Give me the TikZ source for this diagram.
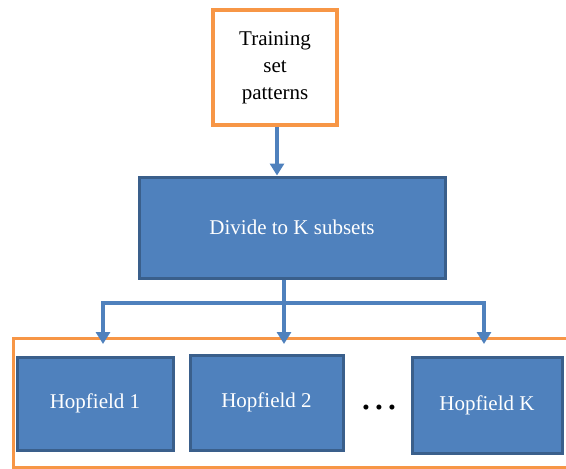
\documentclass[tikz,border=0pt]{standalone}
\usepackage{fontspec}
\setmainfont{Liberation Serif}
\usetikzlibrary{arrows.meta}
\definecolor{boxblue}{HTML}{4F81BD}
\definecolor{boxedge}{HTML}{3A5F8B}
\definecolor{orng}{HTML}{F79646}
\begin{document}
\begin{tikzpicture}[x=1pt,y=-1pt,
  bluebox/.style={draw=boxedge,line width=3pt,fill=boxblue,text=white,
    font=\fontsize{21}{25}\selectfont,inner sep=0pt,anchor=center},
  orbox/.style={draw=orng,line width=3.5pt,fill=white,align=center,
    font=\fontsize{21}{27}\selectfont,inner sep=0pt},
  arr/.style={draw=boxblue,line width=3.5pt,-{Triangle[width=14pt,length=12pt]}},
  conn/.style={draw=boxblue,line width=3.5pt}]
\useasboundingbox (0,0) rectangle (566,469);
\clip (0,0) rectangle (566,469);
% frame around Hopfield nets
\node[draw=orng,line width=3pt,minimum width=567pt,minimum height=129pt,inner sep=0pt] (frame) at (296.5,402.5) {};
\node[orbox,minimum width=124pt,minimum height=115pt] (top) at (275,67.5) {Training\\set\\patterns};
\node[bluebox,minimum width=306pt,minimum height=101pt] (divide) at (292,227.5) {Divide to K subsets};
\node[bluebox,minimum width=156pt,minimum height=93pt] (h1) at (95,403.5) {Hopfield 1};
\node[bluebox,minimum width=153pt,minimum height=95pt] (h2) at (266.5,402.5) {Hopfield 2};
\node[bluebox,minimum width=150pt,minimum height=96pt] (hk) at (487,405) {Hopfield K};
\node[font=\fontsize{21}{21}\selectfont,inner sep=0pt] (dots) at (379,410) {•\hspace{5.6pt}•\hspace{5.6pt}•};
\coordinate (j) at (284,303);
\coordinate (a1) at (103,344);
\coordinate (a2) at (284,344);
\coordinate (a3) at (484,344);
\draw[arr] (top.south -| 277,0) -- (divide.north -| 277,0);
\draw[arr] (divide.south -| j) -- (a2);
\draw[arr] (j) -| (a1);
\draw[arr] (j) -| (a3);
\end{tikzpicture}
\end{document}
